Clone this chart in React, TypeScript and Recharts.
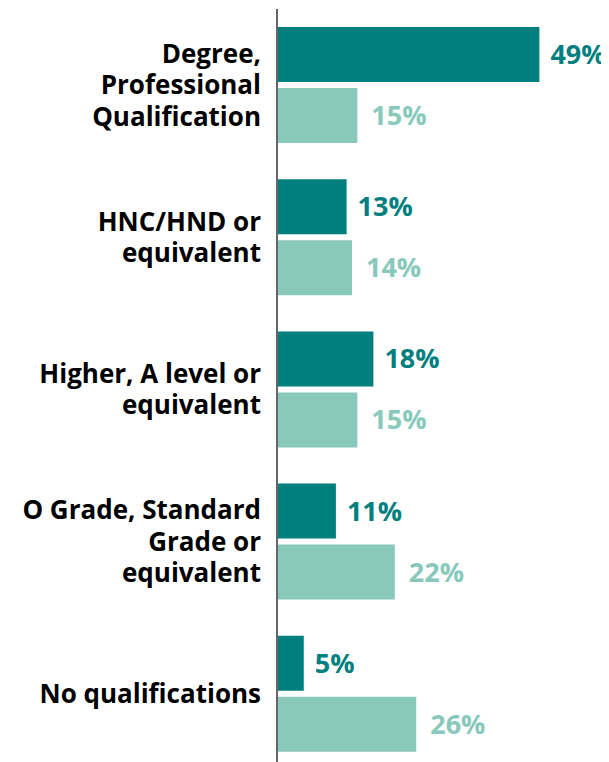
import { BarChart, Bar, XAxis, YAxis, LabelList } from "recharts";

const categories = [
  "Degree,\nProfessional\nQualification",
  "HNC/HND or\nequivalent",
  "Higher, A level or\nequivalent",
  "O Grade, Standard\nGrade or\nequivalent",
  "No qualifications",
];
const seriesA = [49, 13, 18, 11, 5];
const seriesB = [15, 14, 15, 22, 26];

const data = categories.map((name, i) => ({ name, a: seriesA[i], b: seriesB[i] }));

const DARK = "#007f7f";
const LIGHT = "#88c9bb";
const FONT = "'Open Sans', sans-serif";

const CategoryTick = (props: any) => {
  const { x, y, payload } = props;
  const lines = String(payload.value).split("\n");
  const lh = 31.5;
  const start = -((lines.length - 1) * lh) / 2;
  return (
    <text
      x={x}
      y={y}
      textAnchor="end"
      fontFamily={FONT}
      fontWeight={700}
      fontSize={26}
      fill="#000"
    >
      {lines.map((l: string, i: number) => (
        <tspan key={i} x={x} dy={i === 0 ? start + 9 : lh}>
          {l}
        </tspan>
      ))}
    </text>
  );
};

export default function App() {
  return (
    <div style={{ width: 601, height: 760 }}>
      <BarChart
        width={601}
        height={762}
        data={data}
        layout="vertical"
        margin={{ top: 1, right: 0, bottom: 0, left: 0 }}
        barSize={55}
        barGap={6}
      >
        <XAxis type="number" domain={[0, 62]} hide />
        <YAxis
          type="category"
          dataKey="name"
          width={269}
          tick={<CategoryTick />}
          tickLine={false}
          tickMargin={10}
          axisLine={{ stroke: "#666", strokeWidth: 2 }}
        />
        <Bar dataKey="a" fill={DARK} isAnimationActive={false}>
          <LabelList
            dataKey="a"
            position="right"
            offset={11}
            formatter={(v: any) => `${v}%`}
            style={{ fill: DARK, fontFamily: FONT, fontWeight: 700, fontSize: 27 }}
          />
        </Bar>
        <Bar dataKey="b" fill={LIGHT} isAnimationActive={false}>
          <LabelList
            dataKey="b"
            position="right"
            offset={14}
            formatter={(v: any) => `${v}%`}
            style={{ fill: LIGHT, fontFamily: FONT, fontWeight: 700, fontSize: 27 }}
          />
        </Bar>
      </BarChart>
    </div>
  );
}
